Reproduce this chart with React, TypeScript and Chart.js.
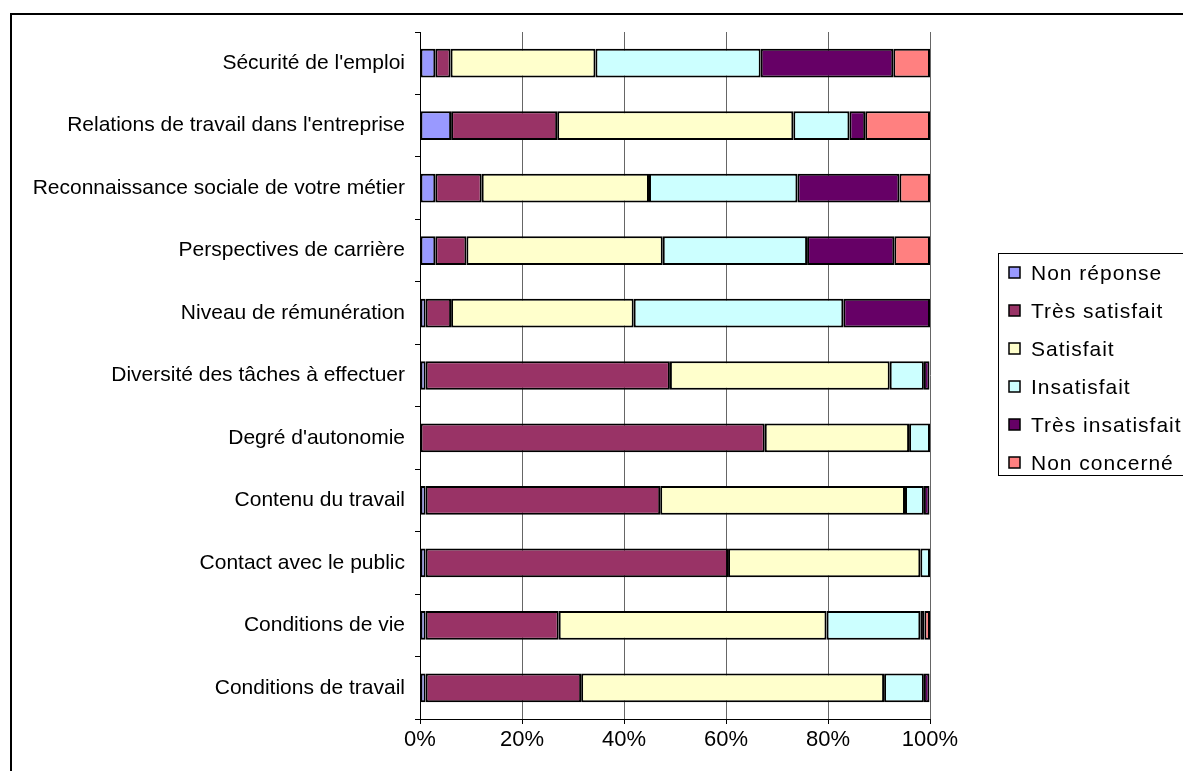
import React, { useEffect, useRef } from "react";
import { Chart, registerables } from "chart.js";

Chart.register(...registerables);

const categories = [
  "Sécurité de l'emploi",
  "Relations de travail dans l'entreprise",
  "Reconnaissance sociale de votre métier",
  "Perspectives de carrière",
  "Niveau de rémunération",
  "Diversité des tâches à effectuer",
  "Degré d'autonomie",
  "Contenu du travail",
  "Contact avec le public",
  "Conditions de vie",
  "Conditions de travail",
];

const seriesNames = [
  "Non réponse",
  "Très satisfait",
  "Satisfait",
  "Insatisfait",
  "Très insatisfait",
  "Non concerné",
];

const nonReponse = [3, 6.1, 3, 3, 1.1, 1.1, null, 1.1, 1.1, 1.1, 1.1];
const tresSatisfait = [3, 20.8, 9.1, 6.1, 5, 47.9, 67.6, 46, 59.3, 26.1, 30.5];
const satisfait = [28.4, 46.3, 32.8, 38.5, 35.8, 43.1, 28.3, 48, 37.7, 52.5, 59.4];
const insatisfait = [32.4, 11, 29.1, 28.3, 41.1, 6.7, 4.1, 3.7, 1.9, 18.4, 7.8];
const tresInsatisfait = [26, 3.1, 20, 17.1, 17, 1.1, null, 1.1, null, 0.8, 1.1];
const nonConcerne = [7.2, 12.7, 6, 7, null, null, null, null, null, 1.1, null];

const xTicks = [0, 20, 40, 60, 80, 100];

const colors = ["#9999FF", "#993366", "#FFFFCC", "#CCFFFF", "#660066", "#FF8080"];

const FONT = "'Liberation Sans', Arial, sans-serif";

export default function App() {
  const ref = useRef<HTMLCanvasElement | null>(null);

  useEffect(() => {
    const canvas = ref.current;
    if (!canvas) return;
    const values = [nonReponse, tresSatisfait, satisfait, insatisfait, tresInsatisfait, nonConcerne];

    const framePlugin = {
      id: "frame",
      beforeDraw(chart: any) {
        const ctx = chart.ctx;
        ctx.save();
        ctx.fillStyle = "#fff";
        ctx.fillRect(0, 0, chart.width, chart.height);
        ctx.strokeStyle = "#000";
        ctx.lineWidth = 2;
        ctx.strokeRect(11, 14, 1400, 1000);
        ctx.restore();
      },
      afterDraw(chart: any) {
        const ctx = chart.ctx;
        ctx.save();
        (ctx as any).letterSpacing = "1px";
        ctx.strokeStyle = "#000";
        ctx.lineWidth = 1;
        ctx.strokeRect(998.5, 253.5, 400, 222);
        ctx.font = "21px " + FONT;
        ctx.textBaseline = "middle";
        ctx.textAlign = "left";
        chart.data.datasets.forEach((ds: any, i: number) => {
          const y = 273 + i * 38;
          ctx.fillStyle = ds.backgroundColor;
          ctx.fillRect(1009, y - 6, 11, 11);
          ctx.strokeStyle = "#000";
          ctx.lineWidth = 1.5;
          ctx.strokeRect(1009, y - 6, 11, 11);
          ctx.fillStyle = "#000";
          ctx.fillText(ds.label, 1031, y + 1);
        });
        ctx.restore();
        (ctx as any).letterSpacing = "0px";
      },
    };

    const chart = new Chart(canvas, {
      type: "bar",
      data: {
        labels: categories,
        datasets: seriesNames.map((name, i) => ({
          label: name,
          data: values[i],
          backgroundColor: colors[i],
          borderColor: "#000",
          borderWidth: 2,
          borderSkipped: false,
          barPercentage: 0.46,
          categoryPercentage: 1,
        })),
      },
      options: {
        indexAxis: "y",
        responsive: false,
        animation: false,
        devicePixelRatio: 1,
        layout: { padding: { top: 32, right: 253, left: 0, bottom: 0 } },
        plugins: {
          legend: { display: false },
          tooltip: { enabled: false },
        },
        scales: {
          x: {
            stacked: true,
            min: 0,
            max: 100,
            afterFit(scale: any) {
              scale.height = 52;
            },
            afterBuildTicks(scale: any) {
              scale.ticks = xTicks.map((v) => ({ value: v }));
            },
            ticks: {
              color: "#000",
              font: { family: FONT, size: 22 },
              padding: 3,
              maxRotation: 0,
              callback: (v: any) => v + "%",
            },
            grid: {
              color: "#666",
              lineWidth: 1,
              tickLength: 5,
              tickColor: "#000",
            },
            border: { color: "#000", width: 1 },
          },
          y: {
            stacked: true,
            afterFit(scale: any) {
              scale.width = 420;
            },
            ticks: {
              color: "#000",
              font: { family: FONT, size: 21 },
              padding: 10,
              autoSkip: false,
            },
            grid: {
              offset: true,
              drawOnChartArea: false,
              tickLength: 5,
              color: "#000",
            },
            border: { color: "#000", width: 1 },
          },
        },
      },
      plugins: [framePlugin],
    } as any);

    return () => chart.destroy();
  }, []);

  return (
    <div style={{ position: "absolute", left: 0, top: 0, width: 1183, height: 771, overflow: "hidden" }}>
      <canvas ref={ref} width={1183} height={771} style={{ display: "block" }} />
    </div>
  );
}
